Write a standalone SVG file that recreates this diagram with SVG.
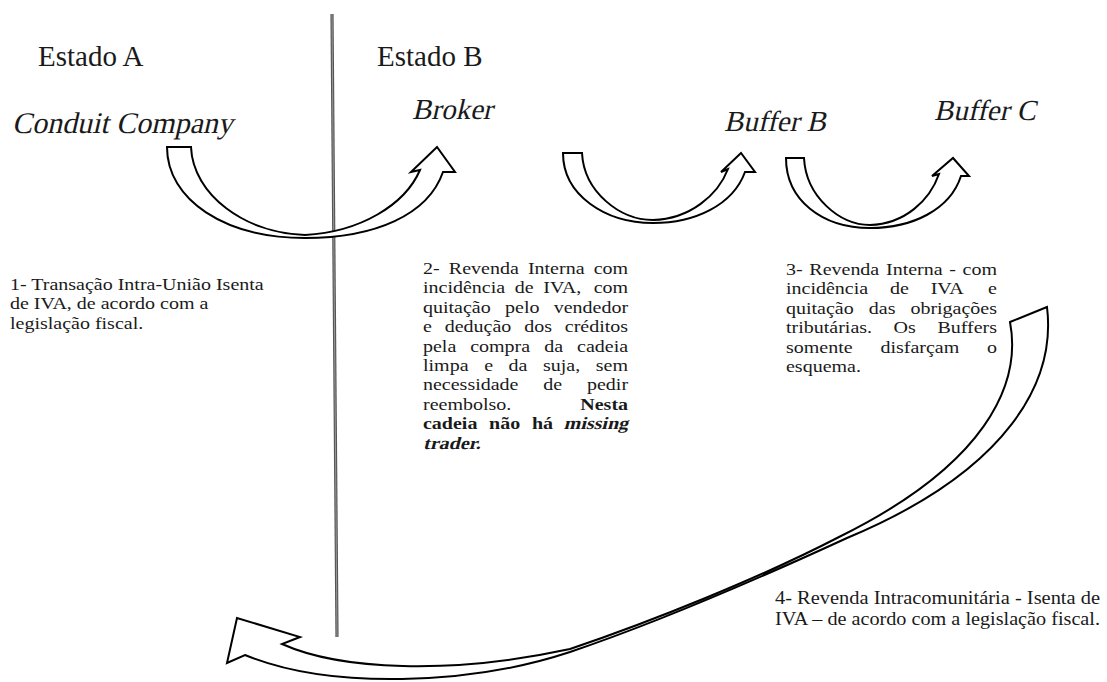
<svg xmlns="http://www.w3.org/2000/svg" width="1107" height="682" viewBox="0 0 1107 682">
<style>
.hd{font-family:"Liberation Serif",serif;font-size:29px;fill:#1a1a1a}
.tx{font-family:"Liberation Serif",serif;font-size:17.5px;fill:#1a1a1a}
.b{font-weight:bold}
.e{text-anchor:end}
.t4{font-family:"Liberation Serif",serif;font-size:18.5px;fill:#1a1a1a}
.arr{fill:#fff;stroke:#000;stroke-width:2;stroke-linejoin:miter}
</style>
<rect width="1107" height="682" fill="#fff"/>
<g id="divider">
<line x1="332" y1="14" x2="337" y2="637" stroke="#555" stroke-width="3.2"/>
<line x1="332" y1="14" x2="337" y2="637" stroke="#aaa" stroke-width="0.8"/>
</g>
<g id="estado-a"><text class="hd" x="38" y="66">Estado A</text></g>
<g id="estado-b"><text class="hd" x="377" y="66">Estado B</text></g>
<g id="conduit"><text class="hd" transform="translate(12,133) skewX(-13)" style="font-size:30px">Conduit Company</text></g>
<g id="broker"><text class="hd" transform="translate(412,119) skewX(-13)">Broker</text></g>
<g id="buffer-b"><text class="hd" transform="translate(724,131) skewX(-13)">Buffer B</text></g>
<g id="buffer-c"><text class="hd" transform="translate(934,120) skewX(-13)">Buffer C</text></g>
<g id="connectors">
<path class="arr" d="M167,147 L191,147 C193,195 245,233 305,235 C360,232 405,205 420,170 L411,172 L437,147 L455,172 L443,172 C428,215 375,238 305,238 C225,238 167,200 167,147 Z"/>
<path class="arr" d="M563,153 L582,153 C584,192 620,220 653,220 C690,219 718,195 728,169 L721,172 L741,153 L755,172 L745,172 C733,205 695,223 653,223 C605,223 563,195 563,153 Z"/>
<path class="arr" d="M786,158 L804,158 C806,197 840,225 870,225 C905,224 930,200 939,174 L932,176 L953,158 L969,176 L961,176 C950,210 912,228 870,228 C822,228 786,200 786,158 Z"/>
<path class="arr" d="M1010,322 L1047,307 C1056,380 1010,470 847,538 C760,578 650,625 570,652 C470,685 330,690 245,655 L227,663 L237,618 L300,637 L282,644 C340,670 450,675 570,649 C650,622 760,578 839,537 C985,465 1022,385 1010,322 Z"/>
</g>
<g id="nota-1" transform="matrix(1.143,0,0,1,-1.43,0)">
<text class="tx" x="10" y="290">1- Transação Intra-União Isenta</text>
<text class="tx" x="10" y="309.5">de IVA, de acordo com a</text>
<text class="tx" x="10" y="329">legislação fiscal.</text>
</g>
<g id="nota-2" transform="matrix(1.143,0,0,1,-60.49,0)">
<text class="tx" y="274"><tspan x="423">2-</tspan><tspan x="445.6">Revenda</tspan><tspan x="514.8">Interna</tspan></text>
<text class="tx e" x="602.4" y="274">com</text>
<text class="tx" y="293.4"><tspan x="423">incidência</tspan><tspan x="503.3">de</tspan><tspan x="528.3">IVA,</tspan></text>
<text class="tx e" x="602.4" y="293.4">com</text>
<text class="tx" y="312.8"><tspan x="423">quitação</tspan><tspan x="494.8">pelo</tspan></text>
<text class="tx e" x="602.4" y="312.8">vendedor</text>
<text class="tx" y="332.2"><tspan x="423">e</tspan><tspan x="442">dedução</tspan><tspan x="511.5">dos</tspan></text>
<text class="tx e" x="602.4" y="332.2">créditos</text>
<text class="tx" y="351.6"><tspan x="423">pela</tspan><tspan x="464.3">compra</tspan><tspan x="529">da</tspan></text>
<text class="tx e" x="602.4" y="351.6">cadeia</text>
<text class="tx" y="371"><tspan x="423">limpa</tspan><tspan x="476.5">e</tspan><tspan x="497.9">da</tspan><tspan x="528">suja,</tspan></text>
<text class="tx e" x="602.4" y="371">sem</text>
<text class="tx" y="390.4"><tspan x="423">necessidade</tspan><tspan x="528.3">de</tspan></text>
<text class="tx e" x="602.4" y="390.4">pedir</text>
<text class="tx" x="423" y="409.8">reembolso.</text>
<text class="tx b e" x="602.4" y="409.8">Nesta</text>
<text class="tx b" y="429.2"><tspan x="423">cadeia</tspan><tspan x="480.8">não</tspan><tspan x="518.3">há</tspan></text>
<text class="tx b e" transform="translate(602.4,429.2) skewX(-13)">missing</text>
<text class="tx b" transform="translate(423,448.6) skewX(-13)">trader.</text>
</g>
<g id="nota-3" transform="matrix(1.143,0,0,1,-112.4,0)">
<text class="tx" y="275"><tspan x="786">3-</tspan><tspan x="806.4">Revenda</tspan><tspan x="873.5">Interna</tspan><tspan x="928.9">-</tspan></text>
<text class="tx e" x="970.6" y="275">com</text>
<text class="tx" y="294.4"><tspan x="786">incidência</tspan><tspan x="877">de</tspan><tspan x="912.6">IVA</tspan></text>
<text class="tx e" x="970.6" y="294.4">e</text>
<text class="tx" y="313.8"><tspan x="786">quitação</tspan><tspan x="858.5">das</tspan></text>
<text class="tx e" x="970.6" y="313.8">obrigações</text>
<text class="tx" y="333.2"><tspan x="786">tributárias.</tspan><tspan x="880.1">Os</tspan></text>
<text class="tx e" x="970.6" y="333.2">Buffers</text>
<text class="tx" y="352.6"><tspan x="786">somente</tspan><tspan x="868.6">disfarçam</tspan></text>
<text class="tx e" x="970.6" y="352.6">o</text>
<text class="tx" x="786" y="372">esquema.</text>
</g>
<g id="nota-4">
<text class="t4" x="775" y="604" textLength="325" lengthAdjust="spacingAndGlyphs">4- Revenda Intracomunitária - Isenta de</text>
<text class="t4" x="775" y="625" textLength="325" lengthAdjust="spacingAndGlyphs">IVA – de acordo com a legislação fiscal.</text>
</g>
</svg>
